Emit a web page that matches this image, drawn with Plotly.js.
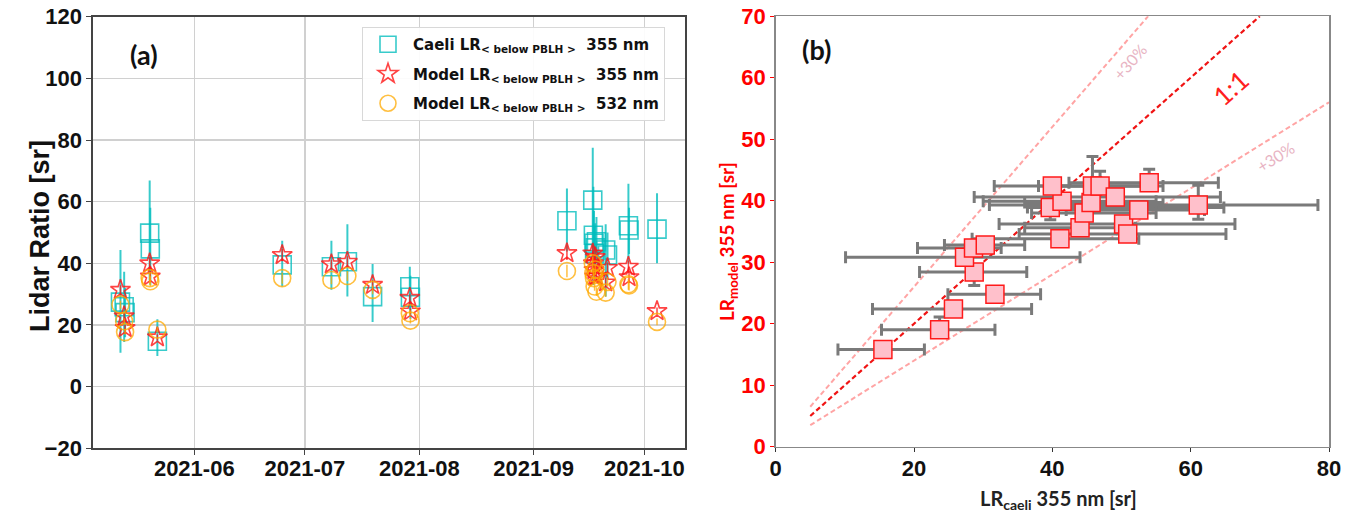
<!DOCTYPE html>
<html><head><meta charset="utf-8">
<script src="https://cdn.plot.ly/plotly-3.0.1.min.js"></script>
<style>html,body{margin:0;padding:0;background:#fff}</style>
</head><body><div id="chart" style="width:1354px;height:517px"></div>
<script>
// ---------- Panel (a): time series ----------
const dates = ['2021-05-12 00:00','2021-05-13 00:00','2021-05-13 06:00','2021-05-19 22:00','2021-05-20 02:00','2021-05-22 00:00',
  '2021-06-24 20:00','2021-07-08 04:00','2021-07-12 12:00','2021-07-19 08:00','2021-07-29 10:00','2021-07-29 14:00',
  '2021-09-10 00:00','2021-09-17 00:00','2021-09-17 04:00','2021-09-17 08:00','2021-09-17 12:00','2021-09-17 16:00',
  '2021-09-18 00:00','2021-09-20 12:00','2021-09-21 00:00','2021-09-26 16:00','2021-09-26 20:00','2021-10-04 10:00'];
const caeli   = [27.4,25.9,24.0,49.8,44.7,14.7, 39.5,38.9,40.5,29.2,32.4,29.0, 53.8,60.5,49.1,46.5,43.2,45.0, 47.0,44.3,42.7,52.2,50.8,51.1];
const caeliHi = [44.3,37.3,32.0,66.9,58.0,21.9, 47.3,47.3,52.7,39.8,38.9,36.0, 64.3,77.5,64.8,57.0,52.0,53.0, 55.0,52.7,50.0,65.8,58.0,62.7];
const caeliLo = [11.0,14.5,16.0,34.6,33.0, 9.9, 32.5,31.4,29.2,21.0,25.0,22.0, 43.8,43.0,33.0,36.0,35.0,38.0, 40.0,29.2,35.0,40.0,43.0,40.0];
const model355 = [31.4,22.8,19.0,40.0,35.7,16.0, 42.7,39.7,40.5,33.0,28.8,24.4, 43.3,43.2,40.0,37.8,35.7,42.0, 35.7,33.8,38.5,38.9,35.5,24.5];
const model355Err = [1.5,1.2,1.0,2.0,1.8,1.0, 2.0,1.5,1.8,1.5,1.2,1.0, 2.2,2.5,2.0,1.8,1.5,2.0, 1.5,1.5,1.8,2.0,1.8,1.2];
const model532 = [26.6,21.2,17.7,35.2,34.2,18.5, 35.2,34.6,35.9,31.4,23.8,21.4, 37.5,40.0,36.8,35.2,32.5,38.0, 30.8,30.5,34.0,33.2,32.8,21.0];
const model532Err = [1.3,1.0,0.9,1.8,1.6,0.9, 1.8,1.4,1.6,1.4,1.1,0.9, 2.0,2.2,1.8,1.6,1.4,1.8, 1.4,1.4,1.6,1.8,1.6,1.1];
const monthTicks = ['2021-06-01','2021-07-01','2021-08-01','2021-09-01','2021-10-01'];
const monthLabels = ['2021-06','2021-07','2021-08','2021-09','2021-10'];

// ---------- Panel (b): scatter ----------
const caeliB   = [15.5,23.7,25.7,31.7,28.7,27.3,28.6,30.3,41.1,39.7,41.4,40.0,44.0,44.6,45.6,45.8,46.9,49.1,50.3,50.9,52.5,54.0,61.1];
const caeliBLo = [ 9.0,15.3,14.0,24.9,20.8,10.1,20.5,24.4,28.4,36.4,30.0,31.6,36.0,37.0,36.0,38.0,40.0,28.7,32.3,35.2,42.0,42.4,30.9];
const caeliBHi = [21.5,31.7,37.0,38.3,36.3,44.0,32.6,36.0,52.5,64.8,55.0,55.0,52.0,55.0,56.0,55.0,56.0,64.3,66.4,65.1,62.0,64.0,78.4];
const modelB   = [15.8,19.0,22.4,24.8,28.4,30.8,32.3,32.8,33.8,38.9,39.9,42.4,35.6,38.0,39.7,42.4,42.4,40.6,36.2,34.6,38.5,42.9,39.3];
const modelBPlus  = [0.5,2.1,0.5,0.5,0.5,0.5,0.5,0.5,0.5,0.5,0.5,0.5,0.5,0.5,0.5,4.8,2.4,0.5,0.5,0.5,0.5,2.2,3.2];
const modelBMinus = [0.5,0.5,0.5,0.5,2.2,0.5,0.5,0.5,0.5,2.0,0.5,0.5,0.5,0.5,0.5,0.5,0.5,0.5,0.5,0.5,0.5,0.5,2.3];
const oneX = [5,70], oneY = [5,70];
const upX = [5,53.85], upY = [6.5,70];
const lowX = [5,80], lowY = [3.5,56];

const teal = 'rgba(0,188,188,0.78)';
const red = 'rgba(255,20,20,0.8)';
const orange = 'rgba(255,170,0,0.75)';

const traces = [
  {x: dates, y: caeli, type:'scatter', mode:'markers', xaxis:'x', yaxis:'y', legendgroup:'g1',
   name:'Caeli LR<sub>&lt; below PBLH &gt;</sub>  355 nm',
   marker:{symbol:'square-open', size:18, color:teal, line:{width:1.6, color:teal}},
   error_y:{type:'data', symmetric:false, array: caeliHi.map((v,i)=>v-caeli[i]), arrayminus: caeli.map((v,i)=>v-caeliLo[i]), color:teal, thickness:2, width:0}},
  {x: dates, y: model355, type:'scatter', mode:'markers', xaxis:'x', yaxis:'y', legendgroup:'g2',
   name:'Model LR<sub>&lt; below PBLH &gt;</sub>  355 nm',
   marker:{symbol:'star-open', size:15, color:red, line:{width:1.6, color:red}},
   error_y:{type:'data', array: model355Err, color:red, thickness:1.5, width:0}},
  {x: dates, y: model532, type:'scatter', mode:'markers', xaxis:'x', yaxis:'y', legendgroup:'g3',
   name:'Model LR<sub>&lt; below PBLH &gt;</sub>  532 nm',
   marker:{symbol:'circle-open', size:17, color:orange, line:{width:1.6, color:orange}},
   error_y:{type:'data', array: model532Err, color:orange, thickness:1.5, width:0}},
  {x: upX, y: upY, type:'scatter', mode:'lines', xaxis:'x2', yaxis:'y2', showlegend:false,
   line:{color:'rgba(255,90,90,0.55)', width:2, dash:'5px,3px'}},
  {x: lowX, y: lowY, type:'scatter', mode:'lines', xaxis:'x2', yaxis:'y2', showlegend:false,
   line:{color:'rgba(255,90,90,0.55)', width:2, dash:'5px,3px'}},
  {x: oneX, y: oneY, type:'scatter', mode:'lines', xaxis:'x2', yaxis:'y2', showlegend:false,
   line:{color:'rgb(240,20,20)', width:2.2, dash:'5px,3px'}},
  {x: caeliB, y: modelB, type:'scatter', mode:'markers', xaxis:'x2', yaxis:'y2', showlegend:false,
   marker:{symbol:'square', size:18, color:'#ffc0cb', line:{width:1.5, color:'#ff1a1a'}},
   error_x:{type:'data', symmetric:false, array: caeliBHi.map((v,i)=>v-caeliB[i]), arrayminus: caeliB.map((v,i)=>v-caeliBLo[i]), color:'#7a7a7a', thickness:3, width:6},
   error_y:{type:'data', symmetric:false, array: modelBPlus, arrayminus: modelBMinus, color:'#7a7a7a', thickness:3, width:6}}
];

const tickFont = {family:'Liberation Sans, Arial, sans-serif', size:22, color:'#111', weight:'bold'};
const W = 1354, H = 517;
const px = v => v / W, py = v => 1 - v / H;

const layout = {
  width: W, height: H, margin:{l:0,r:0,t:0,b:0}, paper_bgcolor:'#fff', plot_bgcolor:'#fff',
  showlegend: true,
  legend:{x: px(362), y: py(27), xanchor:'left', yanchor:'top', bgcolor:'rgba(255,255,255,0.9)',
    bordercolor:'#d8d8d8', borderwidth:1, tracegroupgap:7, itemwidth:40,
    font:{family:'DejaVu Sans, sans-serif', size:15, color:'#111', weight:'bold'}},
  xaxis:{domain:[px(92.8), px(685)], anchor:'y', type:'date', range:['2021-05-04 12:00','2021-10-12 00:00'],
    tickmode:'array', tickvals: monthTicks, ticktext: monthLabels, showgrid:true, gridcolor:'#d0d0d0', gridwidth:1.5,
    showline:true, mirror:true, linecolor:'#444', linewidth:1.5, ticks:'outside', ticklen:5, tickcolor:'#444',
    tickfont: tickFont, zeroline:false, ticklabelstandoff:-5},
  yaxis:{domain:[1-448.3/H, 1-16.7/H], anchor:'x', range:[-20,120], dtick:20, tick0:0, showgrid:true, gridcolor:'#d0d0d0', gridwidth:1.5,
    showline:true, mirror:true, linecolor:'#444', linewidth:1.5, ticks:'outside', ticklen:5, tickcolor:'#444',
    tickfont: tickFont, zeroline:false},
  xaxis2:{domain:[px(775.7), px(1329)], anchor:'y2', range:[0,80], dtick:20, tick0:0, showgrid:false,
    showline:true, mirror:true, linecolor:'#888', linewidth:1.5, ticks:'outside', ticklen:4, tickcolor:'#333',
    tickfont: tickFont, zeroline:false, ticklabelstandoff:-3},
  yaxis2:{domain:[1-446.7/H, 1-16.2/H], anchor:'x2', range:[0,70], dtick:10, tick0:0, showgrid:false,
    showline:true, mirror:true, linecolor:'#888', linewidth:1.5, ticks:'outside', ticklen:4, tickcolor:'#ff0000',
    tickfont:{family:'Liberation Sans, Arial, sans-serif', size:22, color:'#ff0000', weight:'bold'}, zeroline:false},
  annotations:[
    {text:'(a)', xref:'paper', yref:'paper', x:px(144), y:py(54), showarrow:false, xanchor:'center', yanchor:'middle',
     font:{family:'Lato, sans-serif', size:27, color:'#111', weight:'bold'}},
    {text:'(b)', xref:'paper', yref:'paper', x:px(816), y:py(50), showarrow:false, xanchor:'center', yanchor:'middle',
     font:{family:'Lato, sans-serif', size:27, color:'#111', weight:'bold'}},
    {text:'Lidar Ratio [sr]', xref:'paper', yref:'paper', x:px(40), y:py(236), showarrow:false, textangle:-90,
     xanchor:'center', yanchor:'middle', font:{family:'Liberation Sans, Arial, sans-serif', size:27, color:'#111', weight:'bold'}},
    {text:'LR<sub>model</sub> 355 nm [sr]', xref:'paper', yref:'paper', x:px(728), y:py(242), showarrow:false, textangle:-90,
     xanchor:'center', yanchor:'middle', font:{family:'Lato, sans-serif', size:19, color:'#ff0000', weight:'bold'}},
    {text:'LR<sub>caeli</sub> 355 nm [sr]', xref:'paper', yref:'paper', x:px(1058), y:py(499), showarrow:false,
     xanchor:'center', yanchor:'middle', font:{family:'Lato, sans-serif', size:20, color:'#222', weight:'bold'}},
    {text:'1:1', xref:'x2', yref:'y2', x:65.7, y:58.4, showarrow:false, textangle:-42,
     xanchor:'center', yanchor:'middle', font:{family:'Lato, sans-serif', size:26, color:'#ff2020'}},
    {text:'+30%', xref:'x2', yref:'y2', x:51.2, y:62.7, showarrow:false, textangle:-49,
     xanchor:'center', yanchor:'middle', font:{family:'Lato, sans-serif', size:16, color:'rgb(232,180,195)'}},
    {text:'+30%', xref:'x2', yref:'y2', x:72.3, y:47.2, showarrow:false, textangle:-32,
     xanchor:'center', yanchor:'middle', font:{family:'Lato, sans-serif', size:16, color:'rgb(232,180,195)'}}
  ]
};

Plotly.newPlot('chart', traces, layout, {staticPlot:true, displayModeBar:false});
</script></body></html>
